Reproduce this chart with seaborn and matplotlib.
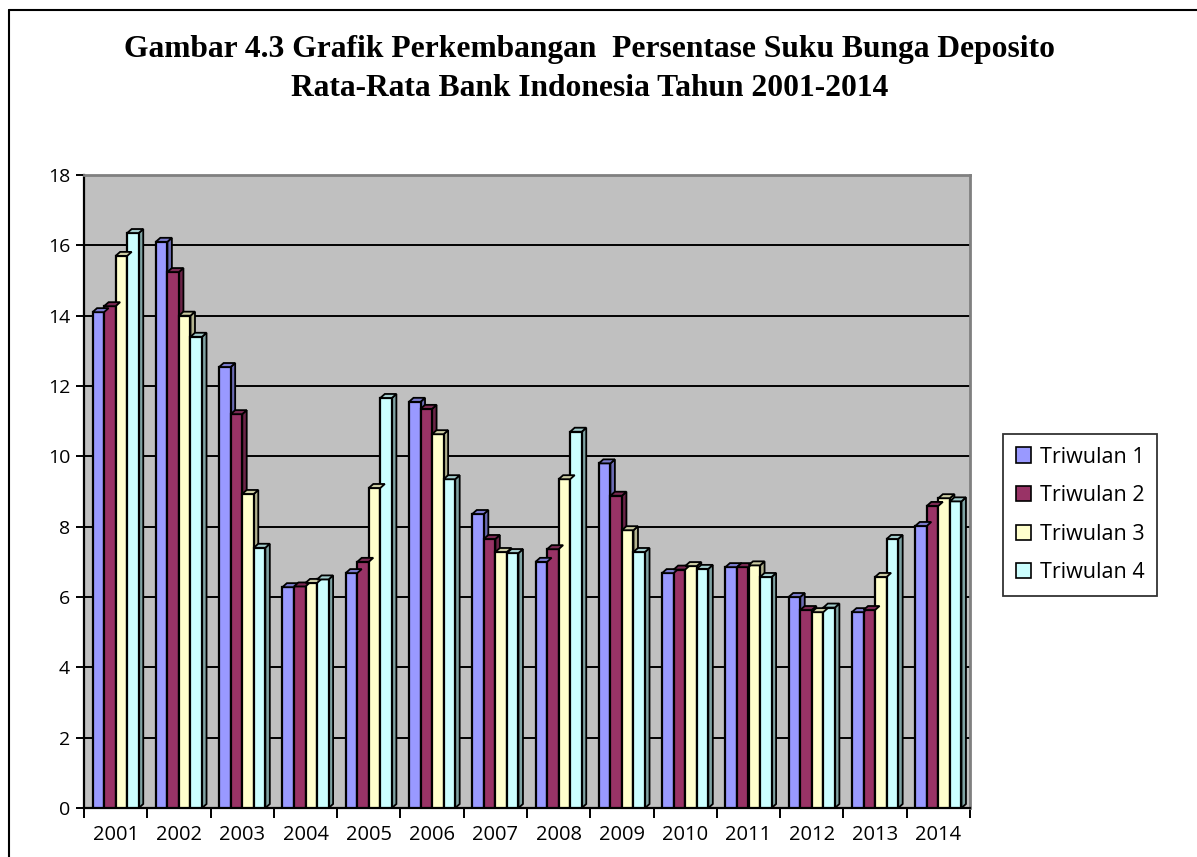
import matplotlib
matplotlib.use("Agg")
import matplotlib.pyplot as plt
from matplotlib.patches import Polygon
from matplotlib.lines import Line2D
import seaborn as sns
import pandas as pd

years = ["2001", "2002", "2003", "2004", "2005", "2006", "2007",
         "2008", "2009", "2010", "2011", "2012", "2013", "2014"]
series_names = ["Triwulan 1", "Triwulan 2", "Triwulan 3", "Triwulan 4"]
triwulan_1 = [14.10, 16.10, 12.54, 6.28, 6.68, 11.55, 8.36, 7.00, 9.80, 6.68, 6.85, 6.00, 5.57, 8.02]
triwulan_2 = [14.27, 15.24, 11.20, 6.30, 7.00, 11.35, 7.65, 7.36, 8.88, 6.78, 6.85, 5.63, 5.63, 8.59]
triwulan_3 = [15.70, 14.00, 8.93, 6.40, 9.10, 10.63, 7.28, 9.35, 7.90, 6.88, 6.90, 5.57, 6.57, 8.81]
triwulan_4 = [16.35, 13.40, 7.40, 6.50, 11.66, 9.35, 7.25, 10.70, 7.28, 6.80, 6.57, 5.70, 7.65, 8.72]
y_ticks = [0, 2, 4, 6, 8, 10, 12, 14, 16, 18]

front_colors = ["#9999FF", "#993366", "#FFFFCC", "#CCFFFF"]
side_colors = ["#6B6BB3", "#6B2447", "#B3B38F", "#7FA3A3"]
top_colors = ["#7A7ACC", "#7A2952", "#CCCCA3", "#A3CCCC"]

rows = []
for name, vals in zip(series_names, [triwulan_1, triwulan_2, triwulan_3, triwulan_4]):
    for yr, v in zip(years, vals):
        rows.append({"Tahun": yr, "Nilai": v, "Triwulan": name})
df = pd.DataFrame(rows)

sns.set_theme(style="white")
plt.rcParams["font.family"] = ["Open Sans", "DejaVu Sans"]
plt.rcParams["text.color"] = "black"

W, H = 1197, 857
fig = plt.figure(figsize=(W / 100, H / 100), dpi=100)
ax_l, ax_r, ax_t, ax_b = 84, 970, 175, 808
ax = fig.add_axes([ax_l / W, 1 - ax_b / H, (ax_r - ax_l) / W, (ax_b - ax_t) / H])
ax.set_facecolor("#C0C0C0")

sns.barplot(data=df, x="Tahun", y="Nilai", hue="Triwulan", hue_order=series_names,
            palette=front_colors, saturation=1, width=0.73, edgecolor="black",
            linewidth=1.6, ax=ax, zorder=3)

ax.set_xlim(-0.5, len(years) - 0.5)
ax.set_ylim(0, 18)

# 3D-style side and top faces on each bar
px_per_x = (ax_r - ax_l) / len(years)
px_per_y = (ax_b - ax_t) / 18.0
dx = 4.5 / px_per_x
dy = 4.0 / px_per_y
bars = [p for p in ax.patches if p.get_height() > 0]
for i, p in enumerate(bars):
    s = i // len(years)
    x0, w, h = p.get_x(), p.get_width(), p.get_height()
    side = Polygon([(x0 + w, 0), (x0 + w + dx, dy), (x0 + w + dx, h + dy), (x0 + w, h)],
                   closed=True, facecolor=side_colors[s], edgecolor="black", lw=1.3, zorder=2.9)
    top = Polygon([(x0, h), (x0 + dx, h + dy), (x0 + w + dx, h + dy), (x0 + w, h)],
                  closed=True, facecolor=top_colors[s], edgecolor="black", lw=1.3, zorder=3.1)
    ax.add_patch(side)
    ax.add_patch(top)

ax.set_yticks(y_ticks)
ax.yaxis.grid(True, color="black", lw=1.4)
ax.xaxis.grid(False)
ax.set_axisbelow(True)
ax.set_xlabel("")
ax.set_ylabel("")

ax.set_xticks(range(len(years)))
ax.set_xticklabels(years)
ax.set_xticks([i - 0.5 for i in range(len(years) + 1)], minor=True)
ax.tick_params(axis="x", which="major", length=0, pad=12, labelsize=14.5, colors="black")
ax.tick_params(axis="x", which="minor", length=7, width=1.4, color="black", bottom=True)
ax.tick_params(axis="y", which="major", length=6, width=1.4, color="black", left=True,
               pad=4, labelsize=14, colors="black")

for side_name in ["left", "bottom"]:
    ax.spines[side_name].set_color("black")
    ax.spines[side_name].set_linewidth(1.6)
for side_name in ["top", "right"]:
    ax.spines[side_name].set_color("#808080")
    ax.spines[side_name].set_linewidth(2.0)

leg = ax.legend(loc="center left", bbox_to_anchor=(1003 / W, 1 - 515 / H),
                bbox_transform=fig.transFigure, frameon=True, fancybox=False,
                borderaxespad=0, handlelength=0.7, handleheight=0.7, handletextpad=0.4,
                labelspacing=0.82, borderpad=0.6, fontsize=15.5, title=None)
leg.get_frame().set_edgecolor("black")
leg.get_frame().set_linewidth(1.3)
for hnd in leg.legend_handles:
    hnd.set_edgecolor("black")
    hnd.set_linewidth(1.2)

title_font = ["Liberation Serif", "DejaVu Serif"]
fig.text(590 / W, 1 - 50 / H, "Gambar 4.3 Grafik Perkembangan  Persentase Suku Bunga Deposito",
         ha="center", va="center", fontsize=22.7, fontweight="bold", family=title_font,
         color="black")
fig.text(590 / W, 1 - 88 / H, "Rata-Rata Bank Indonesia Tahun 2001-2014",
         ha="center", va="center", fontsize=22.7, fontweight="bold", family=title_font,
         color="black")

# outer frame of the chart area
fig.add_artist(Line2D([9 / W, 9 / W], [0, 1 - 10 / H], transform=fig.transFigure,
                      color="black", lw=1.5))
fig.add_artist(Line2D([9 / W, 1], [1 - 10 / H, 1 - 10 / H], transform=fig.transFigure,
                      color="black", lw=1.5))

fig.savefig("out.png", dpi=100)
